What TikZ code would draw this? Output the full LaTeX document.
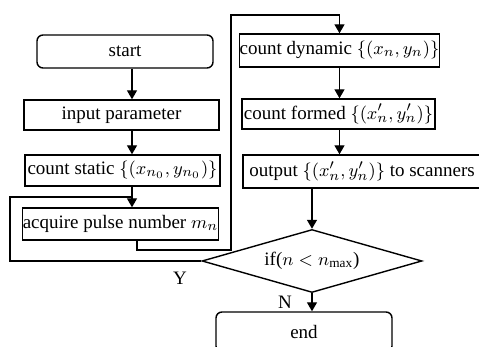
\documentclass[tikz,border=0pt]{standalone}
\usepackage{fontspec}
\setmainfont{Liberation Serif}
\usetikzlibrary{shapes.geometric,arrows.meta}
\begin{document}
\begin{tikzpicture}[x=0.5pt,y=-0.5pt,font=\fontsize{9.5}{11}\selectfont,line width=0.7pt]
    \useasboundingbox (0,0) rectangle (479,347);
    \tikzstyle{boxstep} = [rectangle,draw,inner sep=0pt]
    \tikzstyle{boxterm} = [boxstep,rounded corners=3pt]
    \tikzstyle{boxcond} = [diamond,draw,inner sep=0pt,aspect=3.5,minimum width=110pt,minimum height=31.5pt]
    \tikzstyle{flowarrow} = [-{Triangle[length=4.5pt,width=5pt]}]
    \node[boxterm,minimum width=88pt,minimum height=16.5pt] (start) at (125,51.5) {start};
    \node[boxstep,minimum width=97.5pt,minimum height=15pt] (input) at (121.5,115) {input parameter};
    \node[boxstep,minimum width=97.5pt,minimum height=15.5pt] (cstatic) at (122.5,170.5) {count static\ $\{(x_{n_0},y_{n_0})\}$};
    \node[boxstep,minimum width=96.5pt,minimum height=16pt] (acquire) at (120.5,224) {acquire pulse number $m_n$};
    \node[boxstep,minimum width=97.5pt,minimum height=16.5pt] (cdynamic) at (339.5,50.5) {count dynamic\ $\{(x_n,y_n)\}$};
    \node[boxstep,minimum width=96.5pt,minimum height=15pt] (cformed) at (338.5,114) {count formed\ $\{(x_n',y_n')\}$};
    \node[boxstep,minimum width=119pt,minimum height=16.5pt] (output) at (362,171.5) {output\ $\{(x_n',y_n')\}$\ to scanners};
    \node[boxcond] (check) at (312,261) {if($n<n_{\max}$)};
    \node[boxterm,minimum width=88pt,minimum height=20pt] (finish) at (304,332) {end};
    \node (ylabel) at (180,278) {Y};
    \node (nlabel) at (285,302) {N};
    \coordinate (lx) at (132,0);
    \coordinate (jx) at (137,250);
    \coordinate (tr) at (231,15);
    \coordinate (lp) at (10,197);
    \draw[flowarrow] (start.south -| lx) -- (input.north -| lx);
    \draw[flowarrow] (input.south -| lx) -- (cstatic.north -| lx);
    \draw[flowarrow] (cstatic.south -| lx) -- (acquire.north -| lx);
    \draw[flowarrow] (acquire.south -| jx) -- (jx) -- (jx -| tr) -- (tr) -| (cdynamic.north);
    \draw[flowarrow] (cdynamic.south) -- (cdynamic.south |- cformed.north);
    \draw[flowarrow] (cformed.south -| cdynamic.south) -- (output.north -| cdynamic.south);
    \draw[flowarrow] (output.south -| check.north) -- (check.north);
    \draw (check.west) -| (lp) -- (lp -| lx);
    \draw[flowarrow] (check.south) -- (check.south |- finish.north);
\end{tikzpicture}
\end{document}
